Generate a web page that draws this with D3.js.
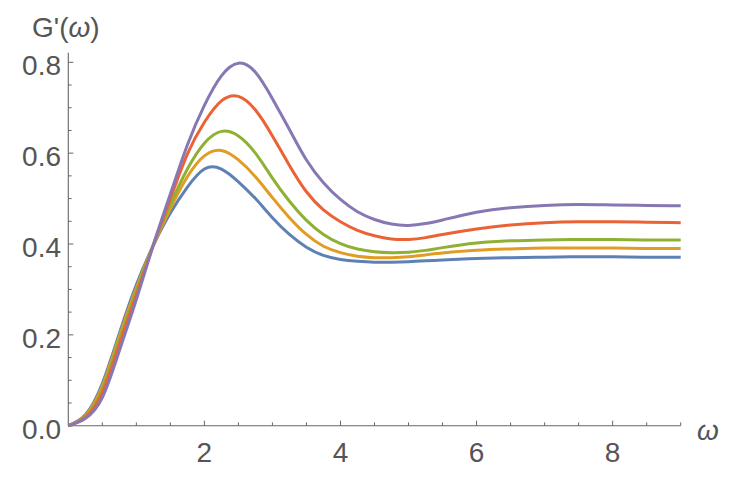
<!DOCTYPE html>
<html>
<head>
<meta charset="utf-8">
<script src="https://cdn.jsdelivr.net/npm/d3@7"></script>
<style>
  html, body { margin: 0; padding: 0; background: #fff; }
  svg { display: block; }
  text { font-family: "Liberation Sans", Arial, sans-serif; fill: #555; }
</style>
</head>
<body>
<svg id="chart" width="748" height="479"></svg>
<script>
// ---- data ----
const omega = [0, 0.25, 0.5, 0.75, 1, 1.25, 1.5, 1.75, 2, 2.25, 2.5, 2.75, 3, 3.25, 3.5, 3.75, 4, 4.25, 4.5, 4.75, 5, 5.25, 5.5, 6, 6.5, 7, 7.5, 8, 8.5, 9];
const seriesBlue   = [0, 0.024, 0.093, 0.203, 0.310, 0.397, 0.468, 0.525, 0.565, 0.565, 0.537, 0.500, 0.458, 0.421, 0.393, 0.375, 0.366, 0.362, 0.360, 0.360, 0.361, 0.363, 0.365, 0.368, 0.370, 0.371, 0.372, 0.372, 0.371, 0.371];
const seriesOrange = [0, 0.022, 0.087, 0.197, 0.303, 0.397, 0.478, 0.548, 0.594, 0.606, 0.585, 0.548, 0.502, 0.458, 0.421, 0.395, 0.381, 0.373, 0.370, 0.370, 0.372, 0.376, 0.380, 0.386, 0.389, 0.391, 0.391, 0.391, 0.390, 0.390];
const seriesGreen  = [0, 0.020, 0.080, 0.189, 0.296, 0.398, 0.487, 0.565, 0.622, 0.648, 0.638, 0.600, 0.545, 0.494, 0.452, 0.421, 0.401, 0.389, 0.383, 0.381, 0.382, 0.386, 0.392, 0.402, 0.407, 0.409, 0.410, 0.410, 0.409, 0.409];
const seriesRed    = [0, 0.018, 0.073, 0.179, 0.288, 0.398, 0.500, 0.598, 0.668, 0.715, 0.725, 0.695, 0.638, 0.573, 0.515, 0.475, 0.449, 0.430, 0.418, 0.411, 0.410, 0.414, 0.421, 0.433, 0.442, 0.447, 0.449, 0.449, 0.448, 0.447];
const seriesPurple = [0, 0.016, 0.062, 0.165, 0.278, 0.398, 0.510, 0.618, 0.705, 0.770, 0.798, 0.778, 0.720, 0.652, 0.585, 0.535, 0.498, 0.471, 0.454, 0.444, 0.441, 0.445, 0.453, 0.470, 0.480, 0.485, 0.487, 0.486, 0.485, 0.484];
const seriesColors = ["#5E81B5", "#E19C24", "#8FB032", "#EB6235", "#8778B3"];
const yTickLabels = ["0.0", "0.2", "0.4", "0.6", "0.8"];
const xTickLabels = ["2", "4", "6", "8"];

const allSeries = [seriesBlue, seriesOrange, seriesGreen, seriesRed, seriesPurple];

// ---- layout ----
const svg = d3.select("#chart");
const x = d3.scaleLinear().domain([0, 9]).range([68.3, 680.7]);
const y = d3.scaleLinear().domain([0, 0.8]).range([425.7, 62.3]);
const axisColor = "#666";

// y axis line
svg.append("line")
  .attr("x1", x(0)).attr("x2", x(0))
  .attr("y1", y(0)).attr("y2", y(0.821))
  .attr("stroke", axisColor).attr("stroke-width", 1.1);
// x axis line
svg.append("line")
  .attr("x1", x(0)).attr("x2", x(9))
  .attr("y1", y(0)).attr("y2", y(0))
  .attr("stroke", axisColor).attr("stroke-width", 1.1);

// y ticks
const yMinor = d3.range(0, 17).map(i => i * 0.05);
svg.append("g").selectAll("line").data(yMinor).join("line")
  .attr("x1", x(0)).attr("x2", (d, i) => x(0) + (i % 4 === 0 ? 5 : 3.3))
  .attr("y1", d => y(d)).attr("y2", d => y(d))
  .attr("stroke", axisColor).attr("stroke-width", 1);
svg.append("g").selectAll("text").data(yTickLabels).join("text")
  .attr("x", 61).attr("y", d => y(+d) + 13)
  .attr("text-anchor", "end")
  .attr("font-size", 28)
  .text(d => d);

// x ticks
const xMinor = d3.range(1, 19).map(i => i * 0.5);
svg.append("g").selectAll("line").data(xMinor).join("line")
  .attr("x1", d => x(d)).attr("x2", d => x(d))
  .attr("y1", y(0)).attr("y2", (d, i) => y(0) - ((i + 1) % 4 === 0 ? 5 : 3.3))
  .attr("stroke", axisColor).attr("stroke-width", 1);
svg.append("g").selectAll("text").data(xTickLabels).join("text")
  .attr("x", d => x(+d)).attr("y", 462)
  .attr("text-anchor", "middle")
  .attr("font-size", 28)
  .text(d => d);

// axis labels
const yl = svg.append("text").attr("x", 32).attr("y", 37).attr("font-size", 28);
yl.append("tspan").text("G'(");
yl.append("tspan").attr("font-style", "italic").text("ω");
yl.append("tspan").text(")");

svg.append("text").attr("x", 697).attr("y", 440)
  .attr("font-size", 28).attr("font-style", "italic").text("ω");

// curves
const line = d3.line()
  .x((d, i) => x(omega[i]))
  .y(d => y(d))
  .curve(d3.curveNatural);

svg.append("g").selectAll("path").data(allSeries).join("path")
  .attr("d", d => line(d))
  .attr("fill", "none")
  .attr("stroke", (d, i) => seriesColors[i])
  .attr("stroke-width", 3)
  .attr("stroke-linejoin", "round");
</script>
</body>
</html>
